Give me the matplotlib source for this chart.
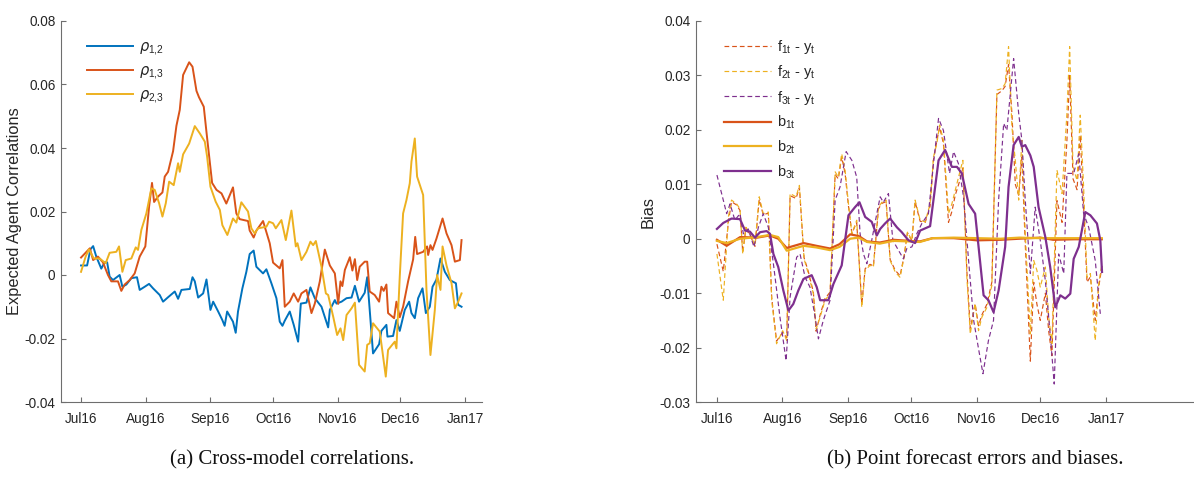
import numpy as np
import matplotlib
matplotlib.use("Agg")
import matplotlib.pyplot as plt
import matplotlib.dates as mdates
import datetime as dt

plt.rcParams['font.family'] = ['Liberation Sans', 'DejaVu Sans']
plt.rcParams['mathtext.default'] = 'regular'

START = dt.datetime(2016, 7, 1)

# ---------------- Panel (a): cross-model correlations ----------------
days_r12 = [0, 2.9, 4.5, 5.8, 7.3, 9.7, 11.3, 12.5, 13.7, 15.3, 18.5, 19.8, 21.7, 24.1, 26.8, 28.1, 30.5, 32.6,
            34.5, 37.7, 39.3, 41.7, 44.9, 46.5, 48.1, 52.1, 53.4, 54.5, 56.1, 58.5, 60.1, 62.0, 63.3, 65.7, 67.7,
            68.8, 70.0, 72.8, 74.1, 75.2, 77.3, 79.2, 80.8, 82.7, 84.0, 87.2, 88.8, 91.2, 93.6, 95.2, 96.5, 97.6,
            100.0, 101.9, 104.0, 105.3, 108.0, 109.9, 112.0, 115.2, 118.4, 119.2, 121.6, 122.4, 124.8, 127.2,
            129.6, 131.2, 133.2, 135.9, 137.1, 139.9, 142.8, 143.9, 146.3, 146.8, 149.5, 151.1, 152.7, 155.1,
            157.2, 158.3, 159.9, 161.5, 163.6, 165.2, 167.1, 168.4, 170.3, 172.2, 174.3, 176.7, 179.6, 180.7, 182.3]
rho12 = [0.003, 0.003, 0.0081, 0.0091, 0.0058, 0.002, 0.004, 0.004, -0.0005, -0.0016, 0.0, -0.0037, -0.003,
         -0.001, -0.0007, -0.0047, -0.0037, -0.0028, -0.0042, -0.0063, -0.0084, -0.007, -0.0052, -0.0075, -0.0047,
         -0.0044, -0.0007, -0.002, -0.0071, -0.0058, -0.0014, -0.011, -0.0084, -0.0115, -0.0142, -0.016, -0.0115,
         -0.0147, -0.0182, -0.0115, -0.0042, 0.001, 0.0066, 0.0077, 0.0026, 0.0005, 0.0018, -0.0026, -0.0073,
         -0.0147, -0.016, -0.0144, -0.0115, -0.0157, -0.021, -0.009, -0.0087, -0.0039, -0.0073, -0.01, -0.0165,
         -0.011, -0.0079, -0.009, -0.0084, -0.0073, -0.0071, -0.0034, -0.0084, -0.0056, -0.0007, -0.0247, -0.0218,
         -0.0176, -0.0157, -0.0194, -0.0192, -0.0142, -0.0176, -0.011, -0.0084, -0.012, -0.0136, -0.0073, -0.0042,
         -0.012, -0.01, -0.0037, -0.0014, 0.0052, 0.001, -0.0016, -0.0026, -0.0094, -0.01]

days_r13 = [0, 4.2, 5.8, 8.1, 10.5, 12.9, 14.5, 17.7, 19.3, 20.9, 23.3, 25.7, 28.1, 30.8, 32.6, 34.0, 35.0, 36.9,
            39.0, 40.1, 41.7, 44.1, 45.7, 47.3, 48.9, 51.8, 53.4, 55.3, 56.5, 58.8, 60.1, 62.8, 64.9, 67.3, 69.6,
            72.8, 74.4, 76.0, 80.0, 80.8, 82.7, 84.0, 87.2, 90.4, 92.0, 95.2, 96.5, 97.6, 100.0, 101.9, 104.0,
            105.6, 108.0, 110.4, 112.0, 114.4, 116.8, 119.2, 121.6, 123.2, 124.3, 125.2, 126.4, 128.8, 130.0,
            131.2, 132.3, 133.5, 135.9, 137.1, 138.3, 140.7, 142.8, 143.9, 145.0, 146.3, 147.1, 150.0, 151.1,
            152.7, 154.3, 156.7, 159.1, 160.1, 161.0, 163.9, 165.8, 166.3, 167.4, 168.4, 170.3, 173.2, 175.1,
            177.5, 179.1, 181.5, 182.3]
rho13 = [0.0055, 0.0084, 0.0047, 0.0058, 0.004, 0.0, -0.002, -0.002, -0.005, -0.003, -0.0016, 0.0005, 0.0058,
         0.009, 0.0215, 0.029, 0.023, 0.0247, 0.026, 0.031, 0.0325, 0.039, 0.047, 0.052, 0.063, 0.067, 0.0656,
         0.058, 0.056, 0.053, 0.045, 0.029, 0.0268, 0.0257, 0.0225, 0.0276, 0.0194, 0.0176, 0.017, 0.014, 0.0118,
         0.014, 0.017, 0.01, 0.0039, 0.0021, 0.0047, -0.01, -0.0084, -0.0058, -0.0084, -0.0058, -0.0047, -0.012,
         -0.009, -0.002, 0.008, 0.003, 0.0005, -0.0091, -0.002, -0.0035, 0.0016, 0.0056, 0.0014, 0.005, -0.0016,
         0.0026, 0.0042, 0.0042, -0.0052, -0.0063, -0.0084, -0.0037, -0.005, -0.003, -0.012, -0.0136, -0.0084,
         -0.0133, -0.01, -0.002, 0.0049, 0.012, 0.0066, 0.0073, 0.009, 0.0063, 0.0094, 0.0079, 0.0115, 0.0178,
         0.0131, 0.0094, 0.0042, 0.0047, 0.011]

days_r23 = [0, 2.2, 3.8, 6.1, 8.9, 11.8, 13.7, 16.9, 18.2, 19.8, 21.4, 24.1, 26.2, 27.3, 28.9, 31.3, 33.7, 35.3,
            37.4, 39.0, 40.6, 42.2, 44.4, 46.5, 47.3, 48.9, 51.8, 54.5, 56.9, 59.3, 60.4, 62.0, 64.5, 66.5, 67.7,
            70.1, 72.8, 74.4, 76.8, 80.0, 81.6, 83.2, 84.8, 88.8, 90.1, 92.0, 93.3, 96.0, 98.1, 100.8, 102.9,
            103.7, 105.6, 108.0, 109.9, 111.2, 112.5, 115.2, 117.3, 118.4, 120.8, 122.7, 124.3, 125.6, 127.2,
            129.6, 131.2, 133.2, 135.9, 137.1, 138.3, 139.9, 143.1, 144.4, 146.0, 147.1, 150.3, 151.1, 152.7,
            154.3, 155.9, 157.5, 158.3, 159.9, 161.0, 163.9, 165.5, 167.4, 169.5, 170.6, 172.2, 173.2, 175.1,
            177.5, 179.1, 180.7, 182.3]
rho23 = [0.001, 0.0058, 0.0081, 0.0052, 0.0052, 0.0037, 0.007, 0.0073, 0.009, 0.001, 0.0047, 0.0052, 0.0087,
         0.0079, 0.0142, 0.0194, 0.0273, 0.0268, 0.0226, 0.0184, 0.0226, 0.0294, 0.0283, 0.0352, 0.0325, 0.038,
         0.0414, 0.0469, 0.0446, 0.042, 0.0373, 0.0278, 0.0231, 0.0205, 0.0157, 0.0126, 0.0178, 0.0165, 0.0229,
         0.02, 0.0147, 0.0131, 0.0147, 0.0152, 0.0168, 0.0163, 0.0147, 0.0173, 0.011, 0.0203, 0.009, 0.01, 0.0047,
         0.0073, 0.0105, 0.0094, 0.0107, 0.0026, -0.0058, -0.0063, -0.0131, -0.0189, -0.0168, -0.0205, -0.0126,
         -0.0105, -0.0087, -0.0283, -0.0304, -0.022, -0.0215, -0.0152, -0.0178, -0.0241, -0.032, -0.0236, -0.021,
         -0.0231, -0.0005, 0.0194, 0.0236, 0.0289, 0.0357, 0.043, 0.031, 0.0252, -0.0047, -0.0252, -0.011, 0.0,
         -0.0047, 0.009, 0.003, -0.0026, -0.0105, -0.0084, -0.0058]

# ---------------- Panel (b): forecast errors and biases ----------------
days_f12 = [0, 3.0, 5.4, 6.9, 9.3, 10.9, 12.2, 13.7, 15.6, 18.0, 20.0, 21.9, 24.3, 25.9, 28.2, 31.1, 33.0, 34.6,
            37.4, 39.0, 41.2, 43.2, 45.6, 46.9, 48.8, 51.1, 53.5, 55.9, 57.4, 59.0, 60.6, 62.2, 63.8, 66.1, 68.5,
            70.1, 72.4, 74.0, 76.4, 78.0, 80.0, 81.9, 84.3, 86.6, 88.5, 90.1, 92.2, 93.7, 96.1, 98.5, 100.8, 102.4,
            104.0, 105.3, 107.1, 109.5, 111.1, 112.7, 114.7, 116.3, 118.2, 119.8, 122.1, 123.7, 125.3, 127.7,
            130.0, 132.4, 134.8, 136.3, 137.9, 139.5, 141.1, 142.7, 144.2, 145.8, 148.2, 149.8, 151.3, 152.9,
            155.3, 156.9, 158.4, 160.8, 163.2, 165.5, 166.8, 168.4, 170.3, 171.8, 173.4, 175.0, 176.6, 178.9,
            180.5, 182.1]
f1t = [-0.001, -0.006, 0.003, 0.0068, 0.0062, 0.0052, -0.0025, 0.0018, 0.0007, -0.0014, 0.0072, 0.0044, 0.0047,
       -0.0108, -0.0188, -0.0172, -0.0182, 0.0079, 0.0074, 0.0094, -0.0035, -0.006, -0.0098, -0.017, -0.014,
       -0.011, -0.0098, 0.0118, 0.011, 0.015, 0.012, 0.006, 0.001, 0.003, -0.012, -0.0055, -0.0047, -0.005,
       0.0055, 0.0065, 0.0068, -0.0038, -0.0058, -0.0068, -0.0032, 0.0011, -0.0004, 0.0068, 0.0032, 0.003, 0.006,
       0.0145, 0.018, 0.0205, 0.0175, 0.003, 0.005, 0.008, 0.0105, 0.013, -0.006, -0.0165, -0.012, -0.016, -0.014,
       -0.012, -0.008, 0.0265, 0.0272, 0.028, 0.032, 0.023, 0.01, 0.008, 0.015, -0.001, -0.0225, -0.008, -0.012,
       -0.015, -0.01, -0.017, -0.0215, 0.007, 0.003, 0.018, 0.03, 0.011, 0.009, 0.019, 0.006, -0.008, -0.007,
       -0.015, -0.009, -0.005]
f2t = [-0.0028, -0.0113, 0.004, 0.0071, 0.0064, 0.0055, -0.0028, 0.0021, 0.0009, -0.0012, 0.0077, 0.0046, 0.0049,
       -0.0113, -0.0193, -0.0169, -0.0187, 0.0083, 0.0077, 0.0098, -0.0037, -0.0064, -0.0101, -0.0166, -0.0144,
       -0.0113, -0.0101, 0.0123, 0.0113, 0.0156, 0.0126, 0.0064, 0.0009, 0.0034, -0.0126, -0.0058, -0.0049,
       -0.0052, 0.0058, 0.0067, 0.0071, -0.004, -0.0061, -0.0071, -0.0034, 0.0012, -0.0003, 0.0071, 0.0034,
       0.0031, 0.0064, 0.015, 0.0175, 0.0209, 0.0181, 0.0046, 0.0064, 0.0089, 0.012, 0.0144, -0.0071, -0.0175,
       -0.0119, -0.0169, -0.0144, -0.0126, -0.0086, 0.0273, 0.0276, 0.0285, 0.0353, 0.0205, 0.0144, 0.0071,
       0.0181, 0.0009, -0.0175, -0.004, -0.0058, -0.0089, -0.0052, -0.0144, -0.0193, 0.0126, 0.0083, 0.023,
       0.0353, 0.0132, 0.0107, 0.0227, 0.0095, -0.0071, -0.0064, -0.0187, -0.0083, -0.0046]

days_f3 = [0, 3.0, 4.6, 6.2, 8.5, 10.9, 12.5, 14.8, 17.5, 19.6, 21.9, 24.3, 26.7, 29.8, 32.7, 34.6, 37.7, 39.3,
           41.7, 44.0, 46.4, 48.0, 50.3, 53.5, 55.9, 58.2, 61.1, 63.8, 66.1, 67.7, 69.3, 70.9, 73.2, 75.6, 77.2,
           78.7, 81.1, 83.2, 85.8, 88.2, 89.8, 92.2, 94.5, 96.9, 100.0, 102.4, 104.8, 107.1, 110.0, 111.9, 114.2,
           116.6, 119.0, 121.4, 123.7, 125.8, 128.4, 130.8, 133.2, 135.6, 137.1, 140.3, 142.7, 144.2, 145.8,
           148.2, 150.5, 152.9, 155.3, 157.6, 159.5, 161.6, 164.0, 165.5, 168.7, 171.1, 173.4, 175.8, 178.9, 181.3]
f3t = [0.0117, 0.0071, 0.0046, 0.0064, 0.0034, 0.0046, 0.0009, 0.0018, -0.0015, 0.0021, 0.0046, 0.0021, -0.0046,
       -0.0144, -0.0224, -0.0107, -0.0034, -0.0028, -0.0071, -0.0089, -0.0144, -0.0184, -0.015, -0.0113, 0.0071,
       0.0095, 0.016, 0.0144, 0.0113, 0.0009, -0.0028, -0.0046, -0.0003, 0.0046, 0.0077, 0.0067, 0.0083, -0.0003,
       -0.0021, -0.0037, -0.0018, -0.0015, 0.0009, 0.0028, 0.0046, 0.0138, 0.0221, 0.0199, 0.012, 0.016, 0.0138,
       0.0077, -0.004, -0.015, -0.0202, -0.0248, -0.0187, -0.015, 0.0071, 0.0212, 0.0199, 0.0331, 0.023, 0.0181,
       0.0071, -0.0064, 0.0058, -0.0003, -0.0077, -0.0175, -0.0267, -0.0028, -0.0064, 0.012, 0.012, 0.0156,
       0.0046, 0.0021, -0.004, -0.0138]

days_b12 = [0, 4.6, 11, 19, 25, 29, 33, 41, 47, 53.5, 58, 63, 67, 71, 77, 83.5, 91, 96, 102, 112, 123, 134, 143,
            153, 159, 169, 182]
b1t = [-0.0002, -0.0013, 0.0003, 0.0002, 0.0006, 0.0, -0.0017, -0.0008, -0.0013, -0.0018, -0.001, 0.0008, 0.0005,
       -0.0005, -0.0007, -0.0002, -0.0004, -0.0005, 0.0001, 0.0001, -0.0003, -0.0002, 0.0, 0.0002, -0.0002,
       -0.0001, -0.0001]
b2t = [-0.0004, -0.0008, 0.0, 0.0003, 0.0007, 0.0003, -0.0022, -0.0013, -0.0016, -0.0021, -0.0015, 0.0, 0.0002,
       -0.0006, -0.0009, -0.0004, -0.0005, -0.0006, 0.0001, 0.0002, 0.0001, 0.0, 0.0002, 0.0001, 0.0001, 0.0001,
       0.0001]

days_b3 = [0, 3.0, 6.9, 10.9, 13.3, 15.6, 18.0, 20.4, 23.5, 25.1, 26.7, 29.0, 31.4, 33.8, 36.1, 38.5, 40.9, 44.8,
           47.2, 48.8, 52.7, 55.1, 59.0, 62.2, 65.3, 67.4, 70.1, 73.2, 75.6, 77.2, 79.5, 81.9, 85.1, 87.4, 90.6,
           93.7, 96.1, 100.8, 104.8, 107.9, 111.1, 113.5, 115.8, 119.0, 122.1, 126.1, 128.4, 130.8, 133.2, 136.3,
           137.9, 140.3, 142.7, 144.2, 145.8, 148.2, 149.8, 152.1, 155.3, 157.6, 160.0, 162.4, 164.7, 167.1, 168.7,
           171.1, 174.2, 176.6, 179.7, 181.3, 182.1]
b3t = [0.0018, 0.0029, 0.0037, 0.0036, 0.0015, 0.0013, 0.0002, 0.0012, 0.0014, 0.0009, -0.0028, -0.0052, -0.0095,
       -0.0132, -0.012, -0.0095, -0.0074, -0.0067, -0.0089, -0.0113, -0.0113, -0.0083, -0.0049, 0.0043, 0.0058,
       0.0067, 0.004, 0.0031, 0.0006, 0.0018, 0.0028, 0.0037, 0.0021, 0.0012, -0.0003, -0.0008, 0.0015, 0.0023,
       0.0144, 0.0163, 0.0132, 0.0132, 0.012, 0.0064, 0.0046, -0.0104, -0.0113, -0.0135, -0.0095, -0.0015, 0.0095,
       0.0172, 0.0187, 0.0169, 0.0172, 0.0153, 0.0132, 0.0058, 0.0003, -0.0052, -0.0126, -0.0104, -0.011, -0.0101,
       -0.0037, -0.0015, 0.0049, 0.0043, 0.0028, -0.0003, -0.0061]

month_ticks = ['2016-07-01', '2016-08-01', '2016-09-01', '2016-10-01', '2016-11-01', '2016-12-01', '2017-01-01']

# colours (MATLAB default order)
C_BLUE, C_RED, C_YEL, C_PUR = '#0072BD', '#D95319', '#EDB120', '#7E2F8E'
AX_COL = '#6e6e6e'
TXT_COL = '#262626'


def to_dates(days):
    return [START + dt.timedelta(days=float(d)) for d in days]


def style_axis(ax):
    ax.spines['top'].set_visible(False)
    ax.spines['right'].set_visible(False)
    for s in ('left', 'bottom'):
        ax.spines[s].set_color(AX_COL)
        ax.spines[s].set_linewidth(0.8)
    ax.tick_params(direction='in', length=3.5, width=0.8, color=AX_COL, labelcolor=TXT_COL, labelsize=9.8)
    ax.tick_params(axis='x', pad=7)
    ax.tick_params(axis='y', pad=4)
    ticks = [dt.datetime.strptime(t, '%Y-%m-%d') for t in month_ticks]
    ax.set_xticks(ticks)
    ax.xaxis.set_major_formatter(mdates.DateFormatter('%b%y'))


def ytick_fmt(v, pos):
    if abs(v) < 1e-12:
        return '0'
    return f'{v:.2f}'


fig = plt.figure(figsize=(11.94, 4.95), dpi=100)
W, H = 1194, 495

# left axes
ax1 = fig.add_axes([61 / W, 1 - 402 / H, 421 / W, 381 / H])
ax1.plot(to_dates(days_r12), rho12, color=C_BLUE, lw=1.4, label=r'$\mathit{\rho}_{1{,}2}$')
ax1.plot(to_dates(days_r13), rho13, color=C_RED, lw=1.4, label=r'$\mathit{\rho}_{1{,}3}$')
ax1.plot(to_dates(days_r23), rho23, color=C_YEL, lw=1.4, label=r'$\mathit{\rho}_{2{,}3}$')
style_axis(ax1)
ax1.set_xlim(START + dt.timedelta(days=-9.6), START + dt.timedelta(days=192.1))
ax1.set_ylim(-0.04, 0.08)
ax1.set_yticks(np.arange(-0.04, 0.081, 0.02))
ax1.yaxis.set_major_formatter(plt.FuncFormatter(ytick_fmt))
ax1.set_ylabel('Expected Agent Correlations', fontsize=11.8, color=TXT_COL)
ax1.yaxis.set_label_coords(-39 / 421, 0.5)
leg1 = ax1.legend(loc='upper left', bbox_to_anchor=(0.03, 0.985), frameon=False, fontsize=10.5,
                  handlelength=3.2, labelspacing=0.5, handletextpad=0.4)
for t in leg1.get_texts():
    t.set_color(TXT_COL)

# right axes
ax2 = fig.add_axes([696 / W, 1 - 402 / H, (W - 696) / W, 381 / H])
ax2.plot(to_dates(days_f12), f1t, color=C_RED, lw=0.85, ls=(0, (4, 2.5)), label='f$_{1t}$ - y$_t$')
ax2.plot(to_dates(days_f12), f2t, color=C_YEL, lw=0.85, ls=(0, (4, 2.5)), label='f$_{2t}$ - y$_t$')
ax2.plot(to_dates(days_f3), f3t, color=C_PUR, lw=0.85, ls=(0, (4, 2.5)), label='f$_{3t}$ - y$_t$')
ax2.plot(to_dates(days_b12), b1t, color=C_RED, lw=1.6, label='b$_{1t}$')
ax2.plot(to_dates(days_b12), b2t, color=C_YEL, lw=1.6, label='b$_{2t}$')
ax2.plot(to_dates(days_b3), b3t, color=C_PUR, lw=1.6, label='b$_{3t}$')
style_axis(ax2)
ax2.set_xlim(START + dt.timedelta(days=-9.9), START + dt.timedelta(days=225.6))
ax2.set_ylim(-0.03, 0.04)
ax2.set_yticks(np.arange(-0.03, 0.041, 0.01))
ax2.yaxis.set_major_formatter(plt.FuncFormatter(ytick_fmt))
ax2.set_ylabel('Bias', fontsize=11.8, color=TXT_COL)
ax2.yaxis.set_label_coords(-40 / 498, 0.5)
leg2 = ax2.legend(loc='upper left', bbox_to_anchor=(0.03, 0.99), frameon=False, fontsize=10.5,
                  handlelength=3.2, labelspacing=0.5, handletextpad=0.4)
for t in leg2.get_texts():
    t.set_color(TXT_COL)

fig.text(292 / W, 1 - 460 / H, '(a) Cross-model correlations.', ha='center', va='center',
         fontsize=15, family=['Liberation Serif', 'DejaVu Serif'], color='#111111')
fig.text(975 / W, 1 - 460 / H, '(b) Point forecast errors and biases.', ha='center', va='center',
         fontsize=15, family=['Liberation Serif', 'DejaVu Serif'], color='#111111')

fig.savefig('out.png', dpi=100)
